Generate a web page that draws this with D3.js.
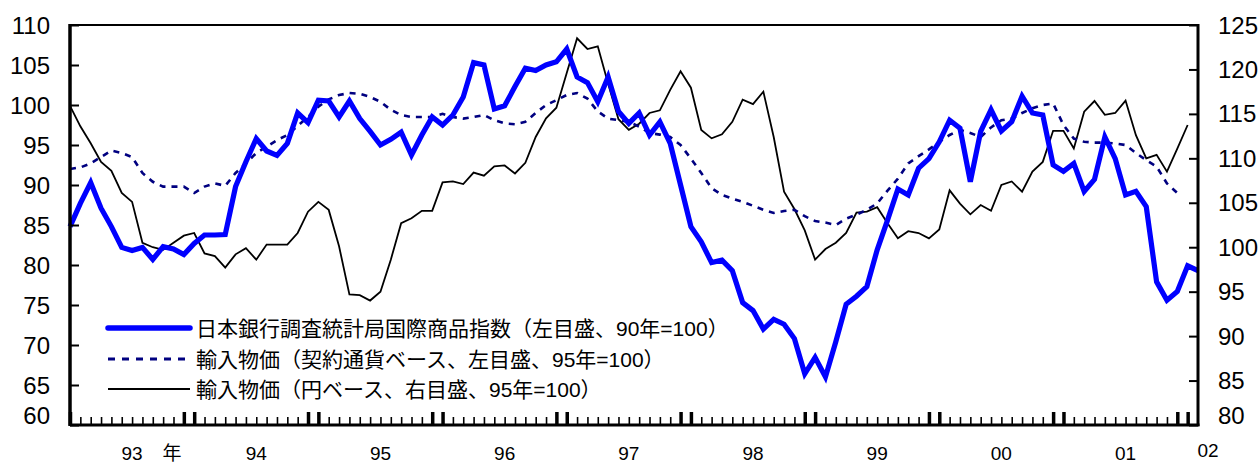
<!DOCTYPE html>
<html>
<head>
<meta charset="utf-8">
<script src="https://cdn.jsdelivr.net/npm/d3@7"></script>
<style>
html,body{margin:0;padding:0;background:#fff;}
svg{display:block;}
</style>
</head>
<body>
<svg id="chart" width="1259" height="464"></svg>
<script>
// Monthly data, Jan 1993 (index 0) .. Feb 2002 (index 109)
const startYear = 1993;
const nMonths = 110;
const yearLabels = ["93","94","95","96","97","98","99","00","01"];
const lastYearLabel = "02";
const leftTicks = [60,65,70,75,80,85,90,95,100,105,110];
const rightTicks = [80,85,90,95,100,105,110,115,120,125];

// 日本銀行調査統計局国際商品指数（左目盛、90年=100） Jan93..Feb02
const commodityIndex = [
 84.8, 87.7, 90.3, 87.1, 84.8, 82.2, 81.8, 82.2, 80.7, 82.3, 82.0, 81.3,
 82.7, 83.75, 83.75, 83.8, 89.8, 92.9, 95.8, 94.25, 93.7, 95.2, 99.0, 97.8,
 100.6, 100.5, 98.5, 100.5, 98.3, 96.7, 95.0, 95.7, 96.6, 93.75, 96.25, 98.5,
 97.5, 98.75, 101.0, 105.3, 105.0, 99.5, 99.9, 102.3, 104.6, 104.3, 105.0, 105.4,
 107.0, 103.5, 102.8, 100.4, 103.5, 99.2, 97.7, 99.0, 96.25, 97.9, 95.2, 90.0,
 84.8, 82.9, 80.3, 80.6, 79.3, 75.3, 74.3, 72.0, 73.2, 72.6, 70.8, 66.4,
 68.45, 66.0, 70.4, 75.1, 76.1, 77.3, 81.9, 85.6, 89.5, 88.75, 92.1, 93.3,
 95.4, 98.1, 97.1, 90.4, 96.7, 99.4, 96.75, 97.9, 101.1, 99.0, 98.75, 92.5,
 91.7, 92.7, 89.2, 90.7, 96.0, 93.3, 88.75, 89.2, 87.3, 77.9, 75.6, 76.7,
 79.9, 79.3
];

// 輸入物価（契約通貨ベース、左目盛、95年=100） Jan93..Dec01
const importContract = [
 92.0, 92.2, 92.7, 93.5, 94.3, 94.0, 93.5, 91.5, 90.4, 89.8, 89.8, 89.8,
 89.0, 89.8, 90.2, 89.9, 91.5, 92.7, 94.0, 94.8, 95.6, 96.25, 97.4, 98.5,
 99.8, 100.7, 101.25, 101.5, 101.4, 101.0, 100.4, 99.4, 98.75, 98.5, 98.5, 98.5,
 98.9, 98.5, 98.3, 98.5, 98.75, 98.1, 97.7, 97.6, 97.9, 99.0, 100.0, 100.6,
 101.25, 101.5, 100.8, 99.2, 98.3, 98.1, 97.9, 97.3, 96.5, 96.3, 96.0, 95.0,
 93.3, 91.5, 89.6, 88.75, 88.3, 87.9, 87.4, 86.9, 86.5, 86.75, 86.9, 86.1,
 85.5, 85.3, 85.0, 85.8, 86.3, 86.9, 87.7, 89.3, 90.8, 92.7, 93.6, 94.45,
 95.4, 96.25, 96.9, 96.5, 96.0, 97.2, 98.1, 98.3, 99.0, 99.6, 100.0, 100.2,
 97.5, 95.8, 95.4, 95.3, 95.3, 95.2, 95.0, 94.0, 93.1, 92.3, 90.2, 89.0
];

// 輸入物価（円ベース、右目盛、95年=100） Jan93..Jan02
const importYen = [
 115.9, 113.6, 111.7, 109.6, 108.6, 106.1, 105.1, 100.5, 100.0, 99.7, 100.5, 101.3,
 101.6, 99.3, 99.0, 97.7, 99.2, 99.9, 98.6, 100.3, 100.3, 100.3, 101.6, 104.0,
 105.1, 104.2, 100.1, 94.7, 94.6, 94.0, 95.0, 98.6, 102.7, 103.25, 104.1, 104.1,
 107.3, 107.4, 107.1, 108.4, 108.05, 109.1, 109.2, 108.3, 109.5, 112.4, 114.5, 115.7,
 119.6, 123.5, 122.3, 122.6, 118.4, 114.4, 113.2, 113.9, 115.1, 115.4, 117.7, 119.8,
 117.95, 113.2, 112.25, 112.7, 114.1, 116.6, 116.1, 117.5, 112.4, 106.25, 104.3, 101.9,
 98.6, 99.8, 100.5, 101.6, 103.9, 104.0, 104.5, 102.7, 101.0, 101.8, 101.6, 101.0,
 102.0, 106.4, 104.9, 103.7, 104.75, 104.1, 107.0, 107.4, 106.25, 108.5, 109.6, 113.1,
 113.1, 111.1, 115.25, 116.45, 114.9, 115.1, 116.5, 112.6, 110.0, 110.4, 108.5, 111.1,
 113.75
];

const legendLabels = [
 "日本銀行調査統計局国際商品指数（左目盛、90年=100）",
 "輸入物価（契約通貨ベース、左目盛、95年=100）",
 "輸入物価（円ベース、右目盛、95年=100）"
];

const svg = d3.select("#chart");
const L = 70, R = 1198, T = 25, B = 425;
const x = d3.scaleLinear().domain([0, nMonths - 1]).range([L, R]);
const yL = d3.scaleLinear().domain([60, 110]).range([B, T]);
const yR = d3.scaleLinear().domain([80, 125]).range([B, T]);
const numFont = "'Liberation Sans', Arial, sans-serif";
const jpFont = "'Liberation Sans', Arial, 'Noto Sans CJK JP', sans-serif";

// series
const lineL = d3.line().x((d, i) => x(i)).y(d => yL(d));
const lineR = d3.line().x((d, i) => x(i)).y(d => yR(d));
svg.append("path").attr("d", lineR(importYen))
  .attr("fill", "none").attr("stroke", "#000").attr("stroke-width", 1.8).attr("stroke-linejoin", "miter");
svg.append("path").attr("d", lineL(importContract))
  .attr("fill", "none").attr("stroke", "#000080").attr("stroke-width", 2.6).attr("stroke-dasharray", "6,6");
svg.append("path").attr("d", lineL(commodityIndex))
  .attr("fill", "none").attr("stroke", "#0000ff").attr("stroke-width", 5.2).attr("stroke-linejoin", "miter").attr("stroke-miterlimit", 3);

// frame
svg.append("line").attr("x1", L).attr("x2", R).attr("y1", T).attr("y2", T).attr("stroke", "#000").attr("stroke-width", 2);

// left axis
const axL = svg.append("g").attr("transform", `translate(${L},0)`)
  .call(d3.axisRight(yL).tickValues(leftTicks).tickSize(9).tickFormat(""));
axL.select(".domain").remove();
axL.selectAll(".tick line").attr("stroke", "#000").attr("stroke-width", 2);
svg.append("line").attr("x1", L).attr("x2", L).attr("y1", T - 1).attr("y2", B + 1).attr("stroke", "#000").attr("stroke-width", 3.5);
svg.append("g").selectAll("text").data(leftTicks).join("text")
  .attr("x", 50).attr("y", d => yL(d) + (d === 60 ? -10 : 0))
  .attr("text-anchor", "end").attr("dominant-baseline", "central")
  .attr("font-family", numFont).attr("font-size", 24).text(d => d);

// right axis
const axR = svg.append("g").attr("transform", `translate(${R},0)`)
  .call(d3.axisLeft(yR).tickValues(rightTicks).tickSize(9).tickFormat(""));
axR.select(".domain").remove();
axR.selectAll(".tick line").attr("stroke", "#000").attr("stroke-width", 2);
svg.append("line").attr("x1", R).attr("x2", R).attr("y1", T - 1).attr("y2", B + 1).attr("stroke", "#000").attr("stroke-width", 3);
svg.append("g").selectAll("text").data(rightTicks).join("text")
  .attr("x", 1218).attr("y", d => yR(d) + (d === 80 ? -10 : 0))
  .attr("text-anchor", "start").attr("dominant-baseline", "central")
  .attr("font-family", numFont).attr("font-size", 24).text(d => d);

// bottom axis with monthly ticks (Dec & Jan emphasised)
const months = d3.range(nMonths - 1);
const axB = svg.append("g").attr("transform", `translate(0,${B})`)
  .call(d3.axisTop(x).tickValues(months).tickSize(8).tickFormat(""));
axB.select(".domain").remove();
axB.selectAll(".tick line")
  .attr("stroke", "#000")
  .attr("stroke-width", d => (d % 12 === 0 || d % 12 === 11) ? 3.5 : 1.6)
  .attr("y2", d => (d % 12 === 0 || d % 12 === 11) ? -13 : -8);
svg.append("line").attr("x1", L).attr("x2", R + 1.5).attr("y1", B).attr("y2", B).attr("stroke", "#000").attr("stroke-width", 3);

// year labels
svg.append("g").selectAll("text").data(yearLabels).join("text")
  .attr("x", (d, k) => x(6 + 12 * k)).attr("y", 453).attr("dominant-baseline", "central")
  .attr("text-anchor", "middle").attr("font-family", numFont).attr("font-size", 19).text(d => d);
svg.append("text").attr("x", 172).attr("y", 453).attr("text-anchor", "middle").attr("dominant-baseline", "central")
  .attr("font-family", jpFont).attr("font-size", 19).text("年");
svg.append("text").attr("x", 1208).attr("y", 450).attr("text-anchor", "middle").attr("dominant-baseline", "central")
  .attr("font-family", numFont).attr("font-size", 19).text(lastYearLabel);

// legend
const legY = [328, 359, 389];
const legStyles = [
  {stroke: "#0000ff", w: 5.5, dash: null},
  {stroke: "#000080", w: 3, dash: "7,7"},
  {stroke: "#000", w: 2, dash: null}
];
const leg = svg.append("g");
legendLabels.forEach((lab, k) => {
  leg.append("line").attr("x1", 108).attr("x2", 190).attr("y1", legY[k]).attr("y2", legY[k])
    .attr("stroke", legStyles[k].stroke).attr("stroke-width", legStyles[k].w)
    .attr("stroke-dasharray", legStyles[k].dash).attr("stroke-linecap", k === 0 ? "round" : "butt");
  leg.append("text").attr("x", 196).attr("y", legY[k]).attr("dominant-baseline", "central")
    .attr("font-family", jpFont).attr("font-size", 21).text(lab);
});
</script>
</body>
</html>
